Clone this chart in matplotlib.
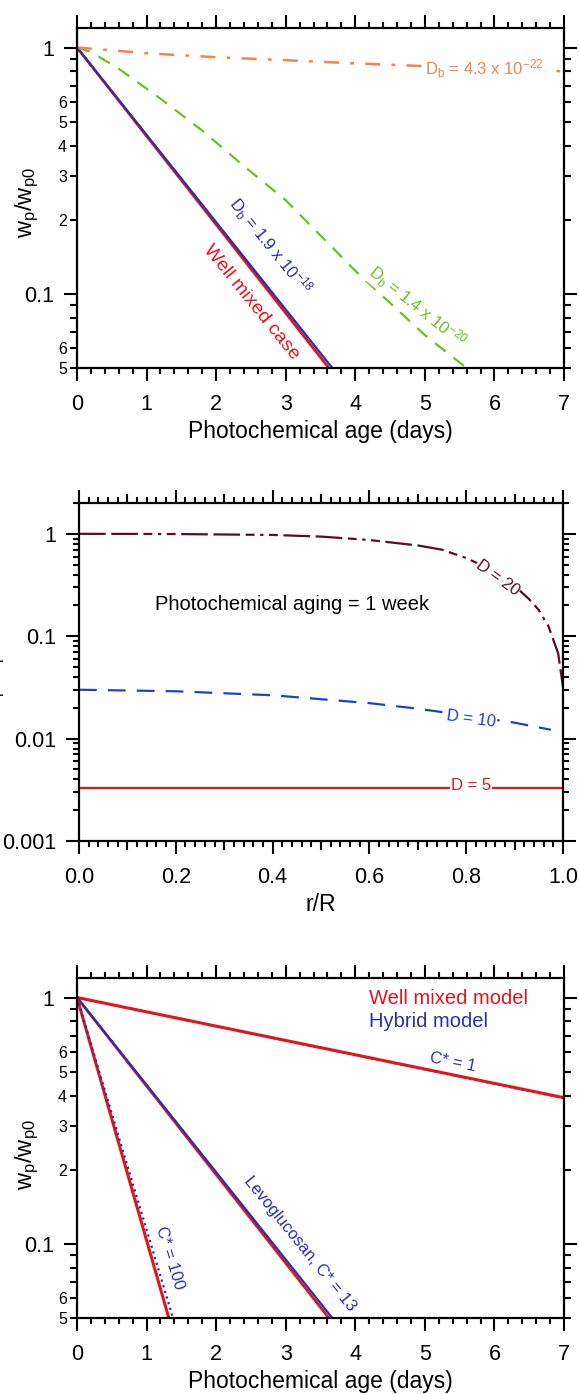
import numpy as np
import matplotlib
matplotlib.use("Agg")
import matplotlib.pyplot as plt
from matplotlib.ticker import FixedLocator, FixedFormatter, MultipleLocator, FormatStrFormatter

plt.rcParams['font.family'] = ['Liberation Sans', 'DejaVu Sans']
plt.rcParams['mathtext.fontset'] = 'custom'
plt.rcParams['mathtext.rm'] = 'Liberation Sans'
plt.rcParams['mathtext.it'] = 'Liberation Sans:italic'
plt.rcParams['mathtext.default'] = 'regular'

# ---- panel 1: bulk diffusion coefficients ----
t_wm1 = [0, 3.62]
wm1 = [1.0, 0.05]
t_db18 = [0, 3.67]
db18 = [1.0, 0.05]
t_db20 = [0, 0.2, 0.6, 1.2, 1.8, 2.4, 3.0, 4.0, 5.0, 5.6]
db20 = [1.0, 0.96, 0.82, 0.62, 0.46, 0.33, 0.24, 0.124, 0.068, 0.05]
t_db22 = [0, 1, 2, 3, 4, 5, 6, 7]
db22 = [1.0, 0.948, 0.913, 0.888, 0.862, 0.84, 0.82, 0.80]

# ---- panel 2: radial profiles after 1 week ----
r_d20 = [0, 0.2, 0.4, 0.5, 0.6, 0.7, 0.75, 0.8, 0.85, 0.9, 0.93, 0.95, 0.97, 0.99, 1.0]
d20 = [1.0, 0.995, 0.975, 0.94, 0.87, 0.77, 0.70, 0.58, 0.45, 0.31, 0.23, 0.18, 0.125, 0.068, 0.032]
r_d10 = [0, 0.2, 0.4, 0.6, 0.7, 0.8, 0.9, 0.975]
d10 = [0.030, 0.029, 0.0265, 0.0222, 0.0196, 0.0168, 0.0143, 0.0122]
r_d5 = [0, 1.0]
d5 = [0.00328, 0.00328]

# ---- panel 3: well mixed vs hybrid model ----
t_c1 = [0, 7]
c1_wm = [1.0, 0.392]
c1_hyb = [1.0, 0.390]
t_lev_wm = [0, 3.62]
t_lev_hyb = [0, 3.67]
lev = [1.0, 0.05]
t_c100_wm = [0, 1.32]
t_c100_hyb = [0, 1.38]
c100 = [1.0, 0.05]

RED = '#e2141c'
BLUE = '#2a2fb0'
GREEN = '#6cc11c'
ORANGE = '#f2844a'
MAROON = '#5c0c2a'
BLUE2 = '#1a44c4'

fig = plt.figure(figsize=(5.79, 13.94), dpi=100)
W, H = 579, 1394


def px_axes(l, t, r, b):
    return fig.add_axes([l / W, 1 - b / H, (r - l) / W, (b - t) / H])


def style_common(ax):
    for s in ax.spines.values():
        s.set_linewidth(1.6)
    ax.tick_params(which='both', direction='out', top=True, right=True, width=1.5)
    ax.tick_params(which='major', length=9.4, labelsize=15.5, pad=7)
    ax.tick_params(axis='x', which='major', pad=9)
    ax.tick_params(which='minor', length=4.5)


def log_ticks_age(ax):
    ax.set_yscale('log')
    ax.set_ylim(0.05, 1.2)
    ax.yaxis.set_major_locator(FixedLocator([0.1, 1]))
    ax.yaxis.set_major_formatter(FixedFormatter(['0.1', '1']))
    minors = [0.05, 0.06, 0.07, 0.08, 0.09, 0.2, 0.3, 0.4, 0.5, 0.6, 0.7, 0.8, 0.9]
    mlabels = ['5', '6', '', '', '', '2', '3', '4', '5', '6', '', '', '']
    ax.yaxis.set_minor_locator(FixedLocator(minors))
    ax.yaxis.set_minor_formatter(FixedFormatter(mlabels))
    ax.set_xlim(0, 7)
    ax.xaxis.set_major_locator(MultipleLocator(1))
    ax.xaxis.set_minor_locator(MultipleLocator(0.2))
    style_common(ax)
    ax.tick_params(axis='y', which='minor', labelsize=11.5, length=5.3, pad=2)


ylab = r'$\mathrm{w_p/w_{p0}}$'


def ylabel_px(x, y):
    fig.text(x / W, 1 - y / H, ylab, fontsize=17, rotation=90, ha='center', va='center')


# ================= panel 1 =================
ax1 = px_axes(77, 28, 564, 368)
log_ticks_age(ax1)
ax1.plot(t_wm1, wm1, color=RED, lw=2.0, solid_capstyle='butt')
ax1.plot(t_db18, db18, color=BLUE, lw=1.6, solid_capstyle='butt')
ax1.plot(t_db20, db20, color=GREEN, lw=1.6, dashes=(6, 4.5))
ax1.plot(t_db22, db22, color=ORANGE, lw=1.8, dashes=(6, 4.5, 1.5, 4.5))
ax1.set_xlabel('Photochemical age (days)', fontsize=16.5, labelpad=4)
ylabel_px(27, 203)

ax1.text(5.85, 0.82, r'D$_\mathrm{b}$ = 4.3 x 10$^{\mathrm{-22}}$', color=ORANGE,
         fontsize=12, ha='center', va='center',
         bbox=dict(facecolor='white', edgecolor='none', pad=1))
ax1.text(2.78, 0.157, r'D$_\mathrm{b}$ = 1.9 x 10$^{\mathrm{-18}}$', color=BLUE,
         fontsize=12, ha='center', va='center', rotation=-51, rotation_mode='anchor')
ax1.text(2.5, 0.092, 'Well mixed case', color=RED,
         fontsize=14, ha='center', va='center', rotation=-51, rotation_mode='anchor')
ax1.text(4.89, 0.0885, r'D$_\mathrm{b}$ = 1.4 x 10$^{\mathrm{-20}}$', color=GREEN,
         fontsize=12, ha='center', va='center', rotation=-39, rotation_mode='anchor',
         bbox=dict(facecolor='white', edgecolor='none', pad=0.5))

# ================= panel 2 =================
ax2 = px_axes(79, 503, 563, 841)
ax2.set_yscale('log')
ax2.set_ylim(0.001, 2)
ax2.set_xlim(0, 1)
ax2.yaxis.set_major_locator(FixedLocator([0.001, 0.01, 0.1, 1]))
ax2.yaxis.set_major_formatter(FixedFormatter(['0.001', '0.01', '0.1', '1']))
ax2.yaxis.set_minor_locator(FixedLocator([k * 10.0 ** e for e in (-3, -2, -1, 0) for k in range(2, 10)]))
ax2.yaxis.set_minor_formatter(FixedFormatter([]))
ax2.xaxis.set_major_locator(MultipleLocator(0.2))
ax2.xaxis.set_major_formatter(FormatStrFormatter('%.1f'))
ax2.xaxis.set_minor_locator(MultipleLocator(0.02))
style_common(ax2)
ax2.tick_params(axis='x', which='minor', length=4)
# medium ticks at the odd tenths
for side in ('bottom', 'top'):
    sec = ax2.secondary_xaxis(side)
    sec.set_xticks([0.1, 0.3, 0.5, 0.7, 0.9])
    sec.tick_params(direction='out', length=6.3, width=1.5, labelbottom=False, labeltop=False)
    sec.spines[side].set_visible(False)

ax2.plot(r_d20, d20, color=MAROON, lw=1.6, dashes=(12, 2.5, 12, 2.5, 4, 2.5, 1.5, 2.5, 4, 2.5))
ax2.plot(r_d10, d10, color=BLUE2, lw=1.6, dashes=(8, 5))
ax2.plot(r_d5, d5, color=RED, lw=1.6)
ax2.set_xlabel('r/R', fontsize=16.5, labelpad=4)
ylabel_px(-7, 679)

ax2.text(0.44, 0.206, 'Photochemical aging = 1 week', fontsize=14.5, ha='center', va='center')
ax2.text(0.865, 0.37, 'D = 20', color=MAROON, fontsize=12, ha='center', va='center',
         rotation=-36, rotation_mode='anchor',
         bbox=dict(facecolor='white', edgecolor='none', pad=0.5))
ax2.text(0.81, 0.0157, 'D = 10', color=BLUE2, fontsize=12, ha='center', va='center',
         rotation=-8, rotation_mode='anchor',
         bbox=dict(facecolor='white', edgecolor='none', pad=1))
ax2.text(0.81, 0.00345, 'D = 5', color=RED, fontsize=12, ha='center', va='center',
         bbox=dict(facecolor='white', edgecolor='none', pad=1))

# ================= panel 3 =================
ax3 = px_axes(77, 978, 564, 1318)
log_ticks_age(ax3)
ax3.plot(t_c1, c1_hyb, color=BLUE, lw=1.6, ls=':')
ax3.plot(t_c1, c1_wm, color=RED, lw=2.2)
ax3.plot(t_lev_wm, lev, color=RED, lw=2.0)
ax3.plot(t_lev_hyb, lev, color=BLUE, lw=1.6)
ax3.plot(t_c100_wm, c100, color=RED, lw=2.2)
ax3.plot(t_c100_hyb, c100, color=BLUE, lw=1.6, ls=':')
ax3.set_xlabel('Photochemical age (days)', fontsize=16.5, labelpad=4)
ylabel_px(27, 1155)

ax3.text(4.2, 0.995, 'Well mixed model', color=RED, fontsize=14.5, ha='left', va='center')
ax3.text(4.2, 0.796, 'Hybrid model', color=BLUE, fontsize=14.5, ha='left', va='center')
ax3.text(5.4, 0.545, 'C* = 1', color=BLUE, fontsize=12, ha='center', va='center',
         rotation=-11.5, rotation_mode='anchor')
ax3.text(3.2, 0.1, 'Levoglucosan, C* = 13', color=BLUE, fontsize=12, ha='center', va='center',
         rotation=-51, rotation_mode='anchor')
ax3.text(1.33, 0.088, 'C* = 100', color=BLUE, fontsize=12, ha='center', va='center',
         rotation=-73, rotation_mode='anchor')

fig.savefig('out.png', dpi=100)
